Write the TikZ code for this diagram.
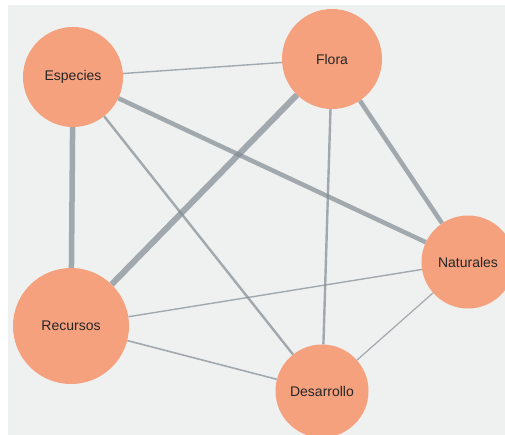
\documentclass[tikz,border=0pt]{standalone}
\usepackage{fontspec}
\setmainfont{Liberation Sans}
\definecolor{salmon}{RGB}{245,161,126}
\definecolor{paper}{RGB}{239,240,240}
\definecolor{link}{RGB}{128,140,146}
\definecolor{ink}{RGB}{38,38,38}
\begin{document}
\begin{tikzpicture}[x=1pt, y=-1pt]
\clip (0,0) rectangle (505,435);
\fill[white] (0,0) rectangle (505,435);
\fill[paper] (8,5) rectangle (505,435);
\tikzstyle{every node} = [circle, inner sep=0pt, fill=salmon, text=ink, font=\fontsize{14}{16}\selectfont]
\node[minimum size=100pt] (especies) at (73, 77) {Especies};
\node[minimum size=100pt] (flora) at (332, 59) {Flora};
\node[minimum size=93pt] (naturales) at (468, 262) {Naturales};
\node[minimum size=116pt] (recursos) at (71, 326) {Recursos};
\node[minimum size=93pt] (desarrollo) at (322, 391) {Desarrollo};
\foreach \from/\to/\w in {especies/flora/1.4, especies/naturales/4.5, especies/recursos/5.5,
  especies/desarrollo/2.4, flora/recursos/6, flora/desarrollo/2.4, flora/naturales/4.5,
  naturales/recursos/1.4, naturales/desarrollo/1.2, recursos/desarrollo/1.6}
\draw [draw=link, draw opacity=0.7, line width=\w pt] (\from) -- (\to);
\end{tikzpicture}
\end{document}
